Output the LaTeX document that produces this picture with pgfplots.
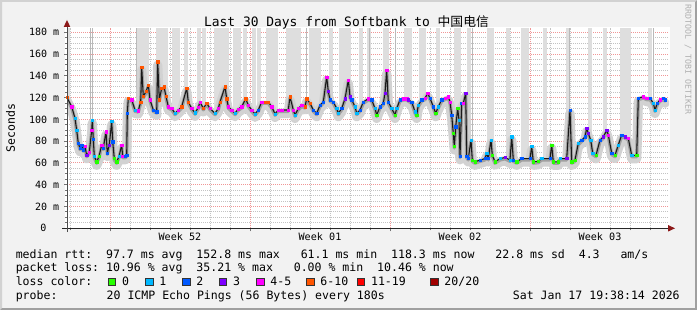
\documentclass[border=0pt]{standalone}
\usepackage{pgfplots}
\pgfplotsset{compat=1.18}
\usepackage{pgfplotstable}
\usepackage{fontspec}
\setmainfont{DejaVu Sans}
\setmonofont{DejaVu Sans Mono}
\newfontfamily\cjk{Noto Sans CJK SC}

\definecolor{bgc}{RGB}{242,242,242}
\definecolor{shA}{RGB}{210,210,210}
\definecolor{shB}{RGB}{160,160,160}
\definecolor{mgc}{RGB}{240,150,150}
\definecolor{gc}{RGB}{195,195,195}
\definecolor{barc}{RGB}{222,222,222}
\definecolor{barc2}{RGB}{185,185,185}
\definecolor{smk1}{RGB}{210,210,210}
\definecolor{smk2}{RGB}{160,160,160}
\definecolor{arr}{RGB}{140,25,25}
\definecolor{wm}{RGB}{176,176,176}
\definecolor{lg}{RGB}{38,255,0}
\definecolor{lc}{RGB}{0,184,255}
\definecolor{lb}{RGB}{0,89,255}
\definecolor{lp}{RGB}{126,0,255}
\definecolor{lm}{RGB}{255,0,255}
\definecolor{lo}{RGB}{255,85,0}
\definecolor{lr}{RGB}{255,0,0}
\definecolor{ld}{RGB}{161,0,0}

\pgfplotstableread{
t m c
0.00 120 o
0.235 111.7 m
0.40 101 c
0.485 90 c
0.565 78 b
0.65 73.5 b
0.735 76.5 b
0.815 72 b
0.90 75 m
0.985 67 p
1.115 70 m
1.235 90 m
1.265 99.5 c
1.315 81.5 b
1.365 66 c
1.485 61 g
1.60 66 g
1.735 76.5 m
1.815 73.5 b
1.95 88.7 m
2.015 69 b
2.115 76.5 p
2.235 98 c
2.285 79.5 b
2.365 64 g
2.485 61 g
2.60 66 c
2.735 76.5 m
2.785 66 m
2.90 66 b
2.985 67 b
3.015 105.6 b
3.065 119.4 o
3.235 118 m
3.40 108.6 c
3.565 108 m
3.685 116 o
3.735 148 o
3.815 121 o
3.95 125.5 o
4.065 131.6 o
4.15 118 m
4.315 108.6 b
4.485 107 b
4.535 152.8 o
4.615 118 o
4.735 128.6 o
4.85 130 o
4.95 121 o
5.065 111.7 m
5.235 110 m
5.40 105.6 c
5.565 108.6 m
5.735 111.7 o
5.985 128.6 o
6.065 116 o
6.235 110 m
6.40 106 c
6.565 111 m
6.65 116 m
6.815 110 o
6.985 114.8 o
7.15 110 m
7.40 105.6 c
7.565 110 m
7.65 116 o
7.90 130 o
7.985 119 o
8.065 111.7 m
8.235 108.6 m
8.40 105.6 c
8.565 109.6 m
8.735 111.7 m
8.935 119 o
9.065 113 m
9.235 108.6 m
9.40 105 c
9.565 108.6 b
9.735 116 m
9.90 116 o
10.065 116 o
10.235 111.7 m
10.40 105 c
10.565 108.6 m
10.735 108.6 m
11.065 108.6 m
11.15 120.8 o
11.315 108.6 m
11.40 104 c
11.565 110 m
11.735 113 m
11.90 111.7 o
11.985 119 o
12.15 114.8 o
12.315 108.6 b
12.485 105.6 b
12.65 113 b
12.815 116 b
12.985 139 m
13.065 125.5 p
13.15 118 b
13.315 116 b
13.485 110 c
13.565 105.6 c
13.735 110 b
13.90 119 p
14.065 136 m
14.15 120.8 p
14.235 118 b
14.40 111.7 c
14.485 105.6 c
14.65 108.6 b
14.815 116 b
15.065 119 m
15.235 118 b
15.40 110 c
15.485 104 g
15.65 111.7 b
15.815 114.8 b
15.90 124 p
15.985 145 m
16.065 116 b
16.235 110 c
16.40 104 g
16.485 110 c
16.65 118 b
16.815 119 m
16.985 119 m
17.065 118 p
17.235 116 b
17.40 107 c
17.485 104 g
17.565 113 c
17.735 118 b
17.90 119.4 m
18.035 124 m
18.15 119.4 b
18.315 111.7 b
18.435 105.6 g
18.565 111.7 c
18.735 118 b
18.90 119.4 m
19.065 120.8 m
19.15 116 m
19.235 104 b
19.315 87 g
19.365 75 g
19.435 93.3 b
19.535 110 g
19.60 99.5 c
19.65 66 b
19.735 114.8 b
19.815 114.8 m
19.935 124 p
19.985 66 b
20.065 64 b
20.20 81 c
20.265 62.7 g
20.40 61 g
20.65 62.7 b
20.90 64 b
20.985 69 c
21.065 64 b
21.20 81 c
21.265 67 g
21.40 61 g
21.65 64 c
21.90 65 p
22.15 62.7 c
22.235 84 c
22.315 62.7 b
22.485 61 g
22.735 64 b
23.15 64 b
23.235 75 c
23.315 61 g
23.565 61.5 g
23.735 64 c
24.15 64 b
24.235 76.5 g
24.315 61 g
24.565 61 g
24.65 64 c
24.985 64 p
25.15 108.6 b
25.235 61 g
25.40 62.7 g
25.565 78 c
25.735 81 b
25.90 84 b
25.985 91.8 p
26.065 87 p
26.185 81 c
26.285 69 c
26.45 67 g
26.65 81 b
26.815 84 p
26.985 90 p
27.065 85.7 m
27.235 69 b
27.40 67 g
27.565 76.5 c
27.735 85.7 b
27.90 84 p
28.065 82.6 m
28.235 67 c
28.485 67 g
28.565 119.4 b
28.815 120.8 m
28.985 119.4 m
29.15 119.4 b
29.315 114.8 c
29.40 108.6 c
29.515 114.8 b
29.65 118 m
29.815 119.4 b
29.90 118 b
}\median

\pgfplotstableread{
t lo
0.05 118
3.6 112
3.8 121
4.0 125
4.55 140
4.75 128
4.95 121
5.35 108
5.55 108
5.97 125
6.6 112
6.85 110
7.45 106
7.65 116
7.85 128
8.0 119
8.4 106
8.6 110
8.9 118
9.35 106
9.6 108
10.05 116
10.25 112
10.45 106
11.05 108
11.25 112
11.45 104
11.6 110
12.2 112
12.4 106
12.6 112
13.2 118
13.7 108
13.9 119
14.1 125
14.72 110
15.1 118
15.9 124
16.0 140
16.95 119
17.15 117
17.7 118
17.85 119
18.57 112
19.45 93
19.6 100
20.12 66
21.1 66
21.25 70
22.07 63
22.8 64
23.0 64
23.9 64
25.07 64
26.15 81
26.9 88
27.75 85
27.95 84
28.1 80
29.15 119
}\bars

\pgfplotstableread{
t lo
1.15 70
1.25 90
3.45 110
11.95 118
15.1 118
16.4 104
20.25 70
25.1 64
29.3 112
}\thinbars

\begin{document}
\begin{tikzpicture}
\begin{scope}[x=0.75pt,y=-0.75pt]
\fill[bgc] (0,0) rectangle (697,310);
\fill[shA] (0,0) -- (697,0) -- (695,2) -- (2,2) -- (2,308) -- (0,310) -- cycle;
\fill[shB] (697,0) -- (697,310) -- (0,310) -- (2,308) -- (695,308) -- (695,2) -- cycle;
\fill[white] (65,27.5) rectangle (670,228.3);
\end{scope}

\begin{axis}[
  at={(50.25pt,-171.225pt)}, anchor=south west,
  scale only axis, width=451.5pt, height=150.3pt,
  xmin=0, xmax=30.1, ymin=0, ymax=184,
  axis line style={draw=none},
  tick pos=left,
  xtick={2.15,9.15,16.15,23.15},
  minor xtick={0.15,1.15,3.15,4.15,5.15,6.15,7.15,8.15,10.15,11.15,12.15,13.15,14.15,15.15,17.15,18.15,19.15,20.15,21.15,22.15,24.15,25.15,26.15,27.15,28.15,29.15},
  ytick={0,20,...,180},
  minor y tick num=3,
  xticklabels={}, yticklabels={},
  grid=both,
  major grid style={draw=mgc, line width=0.75pt, dash pattern=on 0.75pt off 0.75pt},
  minor grid style={draw=gc, line width=0.75pt, dash pattern=on 0.75pt off 0.75pt},
  tick align=outside,
  major tick length=2.25pt, minor tick length=1.5pt,
  tick style={draw=black!55, line width=0.75pt},
]
\addplot[draw=barc, line width=3pt, mark=none, forget plot,
  quiver={u=0, v={184-\thisrow{lo}}}]
  table[x=t, y=lo] \bars;
\addplot[draw=barc2, line width=0.75pt, mark=none, forget plot,
  quiver={u=0, v={184-\thisrow{lo}}}]
  table[x=t, y=lo] \thinbars;
\addplot[draw=smk1, line width=7pt, line join=round, line cap=round, yshift=-2.5pt, forget plot]
  table[x=t, y=m] \median;
\addplot[draw=smk2, line width=2.5pt, line join=round, line cap=round, yshift=-1pt, forget plot]
  table[x=t, y=m] \median;
\addplot[draw=black!90, line width=0.8pt, line join=round, forget plot]
  table[x=t, y=m] \median;
\addplot[scatter, only marks, mark=square*, mark size=0.85pt,
  scatter src=explicit symbolic,
  scatter/classes={g={mark=square*,lg}, c={mark=square*,lc}, b={mark=square*,lb}, p={mark=square*,lp}, m={mark=square*,lm}, o={mark=square*,lo}, r={mark=square*,lr}, d={mark=square*,ld}}]
  table[x=t, y=m, meta=c] \median;
\end{axis}

\begin{scope}[x=0.75pt,y=-0.75pt]
% axis lines
\draw[black!85, line width=0.75pt] (62,228.3) -- (669,228.3);
\fill[arr] (668,225) -- (675,228.3) -- (668,231.6) -- cycle;
\draw[black!70, line width=0.75pt] (67,232) -- (67,26);
\fill[arr] (63.7,27) -- (67,20) -- (70.3,27) -- cycle;

% title
\node[anchor=base, inner sep=0pt, font=\fontsize{9.7pt}{11pt}\ttfamily] at (346.5,26.5) {Last 30 Days from Softbank to {\cjk\fontsize{9.6pt}{11pt}\selectfont 中国电信}};

% y tick labels
\foreach \yy/\lab in {206.5/20 m,184.7/40 m,163.0/60 m,141.2/80 m,119.4/100 m,97.6/120 m,75.9/140 m,54.1/160 m,32.3/180 m}
  \node[anchor=east, inner sep=0pt, font=\fontsize{7.5pt}{9pt}\ttfamily] at (59.5,\yy) {\lab};
\node[inner sep=0pt, font=\fontsize{7.5pt}{9pt}\ttfamily] at (43.5,228.3) {0};

% y label
\node[rotate=90, inner sep=0pt, font=\fontsize{8.66pt}{10pt}\ttfamily] at (10.5,128) {Seconds};

% watermark
\node[rotate=-90, anchor=west, inner sep=0pt, text=wm, font=\fontsize{6.2pt}{7pt}\ttfamily] at (688,4.5) {RRDTOOL / TOBI OETIKER};

% week labels
\foreach \xx/\lab in {180/Week 52,320/Week 01,460/Week 02,600/Week 03}
  \node[anchor=base, inner sep=0pt, font=\fontsize{7.6pt}{9pt}\ttfamily] at (\xx,240.7) {\lab};

% legend
\begin{scope}[every node/.style={anchor=base west, inner sep=0pt, font=\fontsize{8.66pt}{10pt}\ttfamily}]
\node at (15.5,258.2) {median rtt:~~97.7 ms avg~~152.8 ms max~~~61.1 ms min~~118.3 ms now~~~22.8 ms sd~~4.3~~~am/s};
\node at (15.5,271.8) {packet loss:~10.96 \% avg~~35.21 \% max~~~0.00 \% min~~10.46 \% now};
\node at (15.5,285.6) {loss color:};
\node at (15.5,299.6) {probe:};
\node at (106.4,299.6) {20 ICMP Echo Pings (56 Bytes) every 180s};
\node at (512.6,299.6) {Sat Jan 17 19:38:14 2026};
\foreach \bx/\col/\lab in {108.3/lg/0,145.7/lc/1,182.7/lb/2,219.3/lp/3,256.7/lm/4-5,306.7/lo/6-10,357.3/lr/11-19,430.7/ld/{20/20}}{
  \fill[\col, draw=black!80, line width=0.6pt] (\bx,278.4) rectangle ++(7.3,7.3);
  \node at (\bx+13.5,285.6) {\lab};
}
\end{scope}
\end{scope}
\end{tikzpicture}
\end{document}
